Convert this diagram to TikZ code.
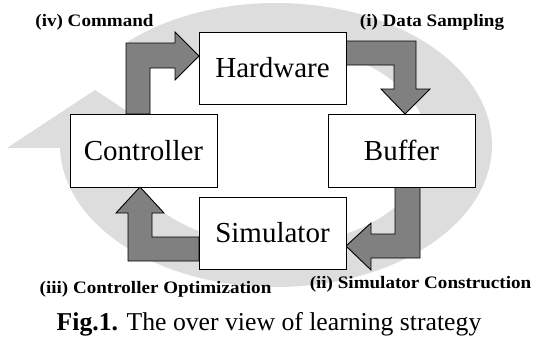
\documentclass[tikz,border=0pt]{standalone}
\usepackage{fontspec}
\setmainfont{Liberation Serif}
\definecolor{bandgray}{RGB}{221,221,221}
\definecolor{arrowgray}{RGB}{128,128,128}
\begin{document}
\begin{tikzpicture}[x=1pt,y=-1pt,
  box/.style={draw=black,line width=0.9pt,fill=white,minimum width=147pt,minimum height=72pt,inner sep=0pt,font=\fontsize{29}{29}\selectfont},
  blockarrow/.style={fill=arrowgray,draw=black,line width=0.9pt,line join=miter},
  lbl/.style={font=\bfseries\fontsize{17.5}{17.5}\selectfont,inner sep=0pt}]
\useasboundingbox (0,0) rectangle (536,340);
% background circular arrow
\fill[bandgray] (127.3,42.0) arc[start angle=133.5,end angle=-178.8,x radius=216pt,y radius=142pt]
  -- (7,148) -- (95,90) -- (183,148) -- (124.1,148)
  arc[start angle=-178.28,end angle=130,x radius=152pt,y radius=100pt] -- cycle;
% block arrows
\draw[blockarrow] (126,114) -- (126,43) -- (175,43) -- (175,32) -- (199,56) -- (175,80) -- (175,68) -- (150,68) -- (150,114) -- cycle;
\draw[blockarrow] (346,41) -- (416,41) -- (416,89) -- (430,89) -- (405,114) -- (381,89) -- (394,89) -- (394,65) -- (346,65) -- cycle;
\draw[blockarrow] (395,187) -- (395,234) -- (371,234) -- (371,223) -- (346,246) -- (371,270) -- (371,258) -- (420,258) -- (420,187) -- cycle;
\draw[blockarrow] (199,237) -- (152,237) -- (152,213) -- (164,213) -- (140,187) -- (116,213) -- (128,213) -- (128,261) -- (199,261) -- cycle;
% boxes
\node[box] (hw) at (272.5,68) {Hardware};
\node[box,minimum height=73pt] (ctrl) at (143.5,150.5) {Controller};
\node[box,minimum height=73pt] (buf) at (401.5,150.5) {Buffer};
\node[box] (sim) at (272.5,233) {Simulator};
% labels
\node[lbl] (l4) at (94.5,22.5) {\scalebox{1.09}[1]{(iv) Command}};
\node[lbl] (l1) at (432,22.5) {\scalebox{1.09}[1]{(i) Data Sampling}};
\node[lbl] (l3) at (155.5,289.5) {\scalebox{1.09}[1]{(iii) Controller Optimization}};
\node[lbl] (l2) at (420.5,284) {\scalebox{1.09}[1]{(ii) Simulator Construction}};
\node[inner sep=0pt,font=\fontsize{25.7}{25.7}\selectfont] (cap) at (269,324) {\textbf{Fig.1.} The over view of learning strategy};
\end{tikzpicture}
\end{document}
